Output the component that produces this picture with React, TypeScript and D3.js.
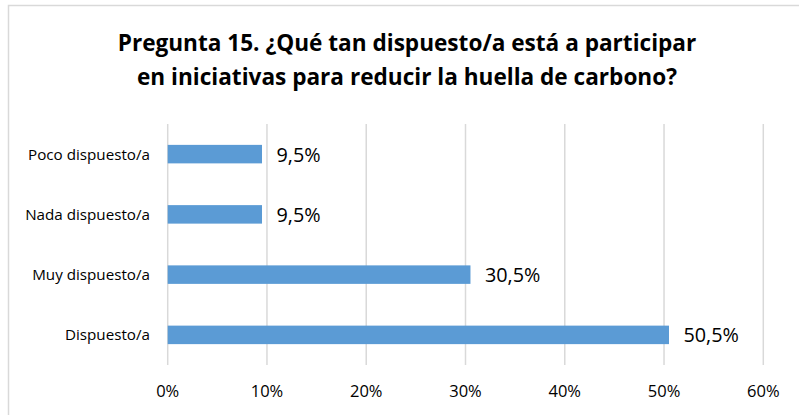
import React from "react";
import * as d3 from "d3";

const categories = ["Poco dispuesto/a", "Nada dispuesto/a", "Muy dispuesto/a", "Dispuesto/a"];
const values = [0.095, 0.095, 0.305, 0.505];
const ticks = [0, 0.1, 0.2, 0.3, 0.4, 0.5, 0.6];
const titleLines = [
  "Pregunta 15. ¿Qué tan dispuesto/a está a participar",
  "en iniciativas para reducir la huella de carbono?",
];

const W = 799;
const H = 415;
const FONT = "'Open Sans', 'Liberation Sans', sans-serif";

export default function App() {
  const x = d3.scaleLinear().domain([0, 0.6]).range([167.7, 763.3]);
  const y = d3
    .scaleBand<string>()
    .domain(categories)
    .range([124, 365])
    .paddingInner(0.693)
    .paddingOuter(0.3465);
  const fmt = (v: number) => d3.format(".1f")(v * 100).replace(".", ",") + "%";
  const bw = y.bandwidth();

  return (
    <svg
      width={W}
      height={H}
      style={{ position: "absolute", left: 0, top: 0, display: "block", background: "#fff" }}
    >
      <rect x={0} y={0} width={W} height={H} fill="#fff" />
      <rect x={8.5} y={5.5} width={W + 10} height={H + 10} fill="#fff" stroke="#d9d9d9" strokeWidth={1.5} />
      {titleLines.map((t, i) => (
        <text
          key={i}
          x={407}
          y={51 + i * 34}
          textAnchor="middle"
          fontFamily={FONT}
          fontWeight="bold"
          fontSize={22.6}
          fill="#000"
        >
          {t}
        </text>
      ))}
      {ticks.map((t) => (
        <line key={"g" + t} x1={x(t)} x2={x(t)} y1={124} y2={365} stroke="#d9d9d9" strokeWidth={1.5} />
      ))}
      {categories.map((c, i) => (
        <g key={c}>
          <rect x={x(0)} y={y(c)!} width={x(values[i]) - x(0)} height={bw} fill="#5b9bd5" />
          <text
            x={x(values[i]) + 14.5}
            y={y(c)! + bw / 2 + 7.5}
            fontFamily={FONT}
            fontSize={19.8}
            fill="#000"
          >
            {fmt(values[i])}
          </text>
          <text
            x={150}
            y={y(c)! + bw / 2 + 5.5}
            textAnchor="end"
            fontFamily={FONT}
            fontSize={15.2}
            fill="#000"
          >
            {c}
          </text>
        </g>
      ))}
      {ticks.map((t) => (
        <text
          key={"t" + t}
          x={x(t)}
          y={396.7}
          textAnchor="middle"
          fontFamily={FONT}
          fontSize={16.5}
          fill="#000"
        >
          {d3.format(".0%")(t)}
        </text>
      ))}
    </svg>
  );
}
